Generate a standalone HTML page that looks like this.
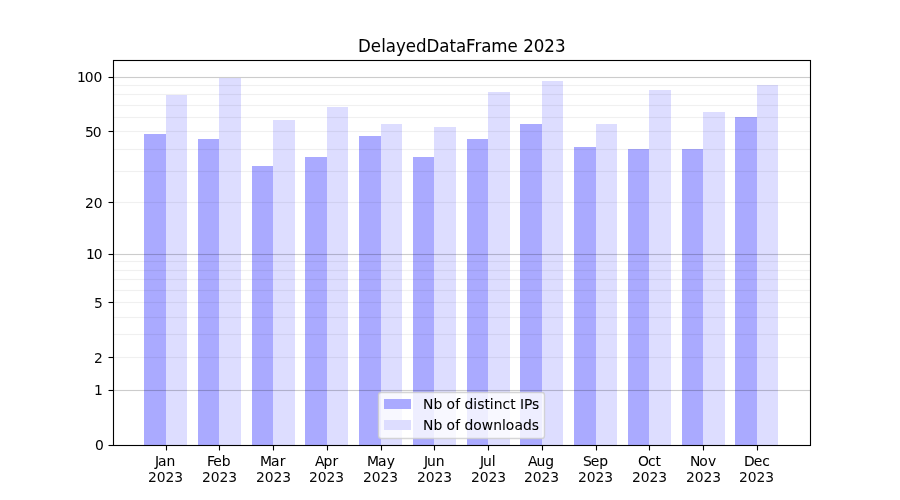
<!DOCTYPE html>
<html lang="en">
<head>
<meta charset="utf-8">
<title>DelayedDataFrame 2023</title>
<style>
html,body{margin:0;padding:0;background:#fff;}
body{width:900px;height:500px;overflow:hidden;}
svg{display:block;}
text{font-family:"DejaVu Sans","Liberation Sans",sans-serif;fill:#000;}
.t10{font-size:13.8889px;}
.t12{font-size:16.6667px;}
.b1{fill:#aaaaff;}
.b2{fill:#ddddff;}
.gM{fill:#000;fill-opacity:0.2;}
.gm{fill:#000;fill-opacity:0.06;}
.ax{stroke:#000;stroke-width:1.1111;fill:none;}
</style>
</head>
<body>
<svg width="900" height="500" viewBox="0 0 900 500">
<rect x="0" y="0" width="900" height="500" fill="#ffffff"/>
<g id="bars">
<rect class="b1" x="144" y="134" width="22" height="312"/>
<rect class="b2" x="166" y="95" width="21" height="351"/>
<rect class="b1" x="198" y="139" width="21" height="307"/>
<rect class="b2" x="219" y="78" width="22" height="368"/>
<rect class="b1" x="252" y="166" width="21" height="280"/>
<rect class="b2" x="273" y="120" width="22" height="326"/>
<rect class="b1" x="305" y="157" width="22" height="289"/>
<rect class="b2" x="327" y="107" width="21" height="339"/>
<rect class="b1" x="359" y="136" width="22" height="310"/>
<rect class="b2" x="381" y="124" width="21" height="322"/>
<rect class="b1" x="413" y="157" width="21" height="289"/>
<rect class="b2" x="434" y="127" width="22" height="319"/>
<rect class="b1" x="467" y="139" width="21" height="307"/>
<rect class="b2" x="488" y="92" width="22" height="354"/>
<rect class="b1" x="520" y="124" width="22" height="322"/>
<rect class="b2" x="542" y="81" width="21" height="365"/>
<rect class="b1" x="574" y="147" width="22" height="299"/>
<rect class="b2" x="596" y="124" width="21" height="322"/>
<rect class="b1" x="628" y="149" width="21" height="297"/>
<rect class="b2" x="649" y="90" width="22" height="356"/>
<rect class="b1" x="682" y="149" width="21" height="297"/>
<rect class="b2" x="703" y="112" width="22" height="334"/>
<rect class="b1" x="735" y="117" width="22" height="329"/>
<rect class="b2" x="757" y="85" width="21" height="361"/>
</g>
<g id="grid">
<rect class="gM" x="113" y="76.930" width="698" height="1.14"/>
<rect class="gM" x="113" y="253.930" width="698" height="1.14"/>
<rect class="gM" x="113" y="389.930" width="698" height="1.14"/>
<rect class="gm" x="113" y="84.930" width="698" height="1.14"/>
<rect class="gm" x="113" y="93.930" width="698" height="1.14"/>
<rect class="gm" x="113" y="104.930" width="698" height="1.14"/>
<rect class="gm" x="113" y="116.930" width="698" height="1.14"/>
<rect class="gm" x="113" y="130.930" width="698" height="1.14"/>
<rect class="gm" x="113" y="148.930" width="698" height="1.14"/>
<rect class="gm" x="113" y="170.930" width="698" height="1.14"/>
<rect class="gm" x="113" y="201.930" width="698" height="1.14"/>
<rect class="gm" x="113" y="260.930" width="698" height="1.14"/>
<rect class="gm" x="113" y="269.930" width="698" height="1.14"/>
<rect class="gm" x="113" y="278.930" width="698" height="1.14"/>
<rect class="gm" x="113" y="289.930" width="698" height="1.14"/>
<rect class="gm" x="113" y="301.930" width="698" height="1.14"/>
<rect class="gm" x="113" y="316.930" width="698" height="1.14"/>
<rect class="gm" x="113" y="333.930" width="698" height="1.14"/>
<rect class="gm" x="113" y="356.930" width="698" height="1.14"/>
</g>
<g id="ticks">
<line class="ax" x1="166.5" x2="166.5" y1="445.5" y2="450.5"/>
<line class="ax" x1="219.5" x2="219.5" y1="445.5" y2="450.5"/>
<line class="ax" x1="273.5" x2="273.5" y1="445.5" y2="450.5"/>
<line class="ax" x1="327.5" x2="327.5" y1="445.5" y2="450.5"/>
<line class="ax" x1="381.5" x2="381.5" y1="445.5" y2="450.5"/>
<line class="ax" x1="434.5" x2="434.5" y1="445.5" y2="450.5"/>
<line class="ax" x1="488.5" x2="488.5" y1="445.5" y2="450.5"/>
<line class="ax" x1="542.5" x2="542.5" y1="445.5" y2="450.5"/>
<line class="ax" x1="596.5" x2="596.5" y1="445.5" y2="450.5"/>
<line class="ax" x1="649.5" x2="649.5" y1="445.5" y2="450.5"/>
<line class="ax" x1="703.5" x2="703.5" y1="445.5" y2="450.5"/>
<line class="ax" x1="757.5" x2="757.5" y1="445.5" y2="450.5"/>
<line class="ax" x1="108.5" x2="113.5" y1="77.5" y2="77.5"/>
<line class="ax" x1="108.5" x2="113.5" y1="131.5" y2="131.5"/>
<line class="ax" x1="108.5" x2="113.5" y1="202.5" y2="202.5"/>
<line class="ax" x1="108.5" x2="113.5" y1="254.5" y2="254.5"/>
<line class="ax" x1="108.5" x2="113.5" y1="302.5" y2="302.5"/>
<line class="ax" x1="108.5" x2="113.5" y1="357.5" y2="357.5"/>
<line class="ax" x1="108.5" x2="113.5" y1="390.5" y2="390.5"/>
<line class="ax" x1="108.5" x2="113.5" y1="445.5" y2="445.5"/>
</g>
<rect class="ax" x="113.5" y="60.5" width="697" height="385"/>
<g id="legend">
<path d="M 381.278 438.5 L 541.722 438.5 Q 544.5 438.5 544.5 435.722 L 544.5 395.278 Q 544.5 392.5 541.722 392.5 L 381.278 392.5 Q 378.5 392.5 378.5 395.278 L 378.5 435.722 Q 378.5 438.5 381.278 438.5 Z" fill="#ffffff" fill-opacity="0.8" stroke="#cccccc" stroke-opacity="0.8" stroke-width="1.3889"/>
<rect class="b1" x="384" y="399" width="27" height="10"/>
<rect class="b2" x="384" y="420" width="27" height="10"/>
</g>
<g id="labels">
<text class="t10" x="0.75 3.875 12.25" y="0" transform="translate(154.244 465.526) scale(1 1.0)" stroke="#000" stroke-width="0.04">Jan</text>
<text class="t10" x="0 8.75 17.5 26.25" y="0" transform="translate(147.901 481.578) scale(1 1.045)" fill-opacity="0.976">2023</text>
<text class="t10" x="0.75 7 15.5" y="0" transform="translate(206.142 465.526) scale(1 1.0)" stroke="#000" stroke-width="0.04">Feb</text>
<text class="t10" x="-0.125 8.625 17.375 26.125" y="0" transform="translate(202.012 481.578) scale(1 1.045)" fill-opacity="0.976">2023</text>
<text class="t10" x="0.5 11.625 20.25" y="0" transform="translate(259.445 465.526) scale(1 1.015)" stroke="#000" stroke-width="0.06">Mar</text>
<text class="t10" x="0 8.75 17.5 26.25" y="0" transform="translate(255.999 481.578) scale(1 1.045)" fill-opacity="0.976">2023</text>
<text class="t10" x="0.5 9.125 18" y="0" transform="translate(314.395 465.526) scale(1 1.06)" stroke="#000" stroke-width="0.02">Apr</text>
<text class="t10" x="0 8.75 17.5 26.25" y="0" transform="translate(308.985 481.578) scale(1 1.045)" fill-opacity="0.976">2023</text>
<text class="t10" x="0.5 11.625 20.25" y="0" transform="translate(366.413 465.526) scale(1 1.015)" stroke="#000" stroke-width="0.05">May</text>
<text class="t10" x="0 8.75 17.5 26.25" y="0" transform="translate(362.972 481.578) scale(1 1.045)" fill-opacity="0.976">2023</text>
<text class="t10" x="1 4 12.75" y="0" transform="translate(422.906 465.526) scale(1 1.03)" stroke="#000" stroke-width="0.06">Jun</text>
<text class="t10" x="0 8.75 17.5 26.25" y="0" transform="translate(416.958 481.578) scale(1 1.045)" fill-opacity="0.976">2023</text>
<text class="t10" x="1 4 12.75" y="0" transform="translate(478.989 465.526) scale(1 1.03)" stroke="#000" stroke-width="0.06">Jul</text>
<text class="t10" x="0 8.75 17.5 26.25" y="0" transform="translate(470.945 481.578) scale(1 1.045)" fill-opacity="0.976">2023</text>
<text class="t10" x="0.625 9.125 17.875" y="0" transform="translate(527.295 465.526) scale(1 1.0)" stroke="#000" stroke-width="0.06">Aug</text>
<text class="t10" x="0 8.75 17.5 26.25" y="0" transform="translate(523.931 481.578) scale(1 1.045)" fill-opacity="0.976">2023</text>
<text class="t10" x="0.625 8.5 16.875" y="0" transform="translate(582.376 465.526) scale(1 1.015)" stroke="#000" stroke-width="0.04">Sep</text>
<text class="t10" x="0 8.75 17.5 26.25" y="0" transform="translate(577.918 481.578) scale(1 1.045)" fill-opacity="0.976">2023</text>
<text class="t10" x="0.5 10.625 18" y="0" transform="translate(637.445 465.526) scale(1 1.03)" stroke="#000" stroke-width="0.02">Oct</text>
<text class="t10" x="0 8.75 17.5 26.25" y="0" transform="translate(631.904 481.578) scale(1 1.045)" fill-opacity="0.976">2023</text>
<text class="t10" x="0.5 9.875 18.5" y="0" transform="translate(689.385 465.526) scale(1 1.0)" stroke="#000" stroke-width="0.01">Nov</text>
<text class="t10" x="0 8.75 17.5 26.25" y="0" transform="translate(685.891 481.578) scale(1 1.045)" fill-opacity="0.976">2023</text>
<text class="t10" x="0.5 10.25 18.75" y="0" transform="translate(743.487 465.526) scale(1 1.0)" stroke="#000" stroke-width="0.06">Dec</text>
<text class="t10" x="0 8.75 17.5 26.125" y="0" transform="translate(739.002 481.578) scale(1 1.045)" fill-opacity="0.976">2023</text>
<text class="t10" x="0" y="0" transform="translate(94.903 449.527) scale(1 1.045)" stroke="#000" stroke-width="0.03">0</text>
<text class="t10" x="0" y="0" transform="translate(93.903 394.717) scale(1 1.045)" fill-opacity="0.98">1</text>
<text class="t10" x="0" y="0" transform="translate(93.903 362.613) scale(1 1.03)" fill-opacity="0.96">2</text>
<text class="t10" x="0" y="0" transform="translate(93.903 307.554) scale(1 1.06)" fill-opacity="0.97">5</text>
<text class="t10" x="0.5 8.25" y="0" transform="translate(85.403 258.687) scale(1 1.045)" stroke="#000" stroke-width="0.01">10</text>
<text class="t10" x="0 8.75" y="0" transform="translate(84.903 207.59) scale(1 1.045)">20</text>
<text class="t10" x="0.625 8.375" y="0" transform="translate(84.278 136.537) scale(1 1.045)">50</text>
<text class="t10" x="0.75 8.5 17.25" y="0" transform="translate(76.153 81.514) scale(1 1.03)" stroke="#000" stroke-width="0.02">100</text>
<text class="t12" x="-0.125 12.75 23.25 27.875 38 47.75 58 68.5 81.375 91.5 98 108 116.5 123.25 133.25 149.5 159.875 165.25 175.75 186.25 197" y="0" transform="translate(358 51.667) scale(1 1.045)" stroke="#000" stroke-width="0.03">DelayedDataFrame 2023</text>
<text class="t10" x="-0.25 10.375 19.25 23.375 32.125 37.125 41.375 50.25 54.125 61.375 66.75 70.625 79.5 87.125 92.625 96.875 100.875 109" y="0" transform="translate(423.12 408.725) scale(1 1.06)" stroke="#000" stroke-width="0.04">Nb of distinct IPs</text>
<text class="t10" x="-0.25 10.375 19.25 23.375 32.125 37.125 41.375 50.25 58.625 70.125 79 82.625 91.375 99.875 108.625" y="0" transform="translate(423.12 429.612) scale(1 1.045)" stroke="#000" stroke-width="0.05">Nb of downloads</text>
</g>
</svg>
</body>
</html>
